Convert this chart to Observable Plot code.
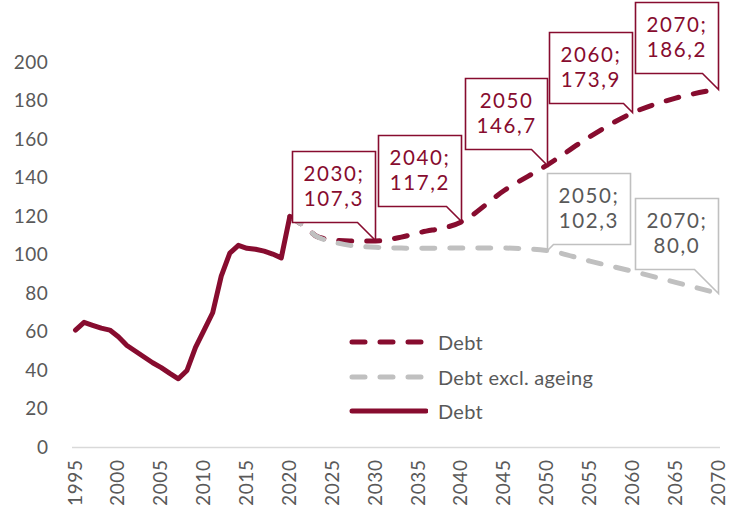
<!DOCTYPE html>
<html><head><meta charset="utf-8">
<script src="https://cdn.jsdelivr.net/npm/d3@7"></script>
<script src="https://cdn.jsdelivr.net/npm/@observablehq/plot@0.6"></script>
<style>
body{margin:0;background:#fff;}
#wrap{position:relative;width:730px;height:506px;font-family:Lato,"Open Sans",sans-serif;}
#wrap svg text{letter-spacing:0.6px;}
#wrap svg g[aria-label^="tip"] text{letter-spacing:1.6px;}
#legend{position:absolute;left:348px;top:325px;}
.row{display:flex;align-items:center;height:34.5px;font-size:20px;color:#595959;letter-spacing:0.3px;}
.row svg{margin-right:10px;display:block}
</style></head><body><div id="wrap"><div id="legend"></div></div>
<script>
// ---- data ----
const histYears = [1995,1996,1997,1998,1999,2000,2001,2002,2003,2004,2005,2006,2007,2008,2009,2010,2011,2012,2013,2014,2015,2016,2017,2018,2019,2020];
const histDebt  = [61,65,63.5,62,61,57.5,53,50,47,44,41.5,38.5,35.7,40,52,61,70,89,101,105,103.5,103,102,100.5,98.5,120];

const projYears    = [2020,2021,2022,2023,2024,2025,2027,2030,2033,2035,2040,2045,2050,2055,2060,2065,2070];
const projDebt     = [120,117,114,110,108.5,107.8,107.3,107.3,109.3,111.5,117.2,133.5,146.7,161.5,173.9,181.5,186.2];
const projExAgeing = [120,117,114,110,108,106.8,105,104,103.6,103.5,103.7,103.6,102.3,96.8,91.5,85.8,80.0];

const calloutYears  = [2030,2040,2050,2060,2070,2050,2070];
const calloutValues = [107.3,117.2,146.7,173.9,186.2,102.3,80.0];
const calloutLabels = ["2030;\n107,3","2040;\n117,2","2050\n146,7","2060;\n173,9","2070;\n186,2","2050;\n102,3","2070;\n80,0"];
const calloutSeries = ["debt","debt","debt","debt","debt","ex","ex"];

const xTicks = [1995,2000,2005,2010,2015,2020,2025,2030,2035,2040,2045,2050,2055,2060,2065,2070];
const yTicks = [0,20,40,60,80,100,120,140,160,180,200];

const legendLabels = ["Debt","Debt excl. ageing","Debt"];

// ---- styles ----
const RED = "#870C2F";
const GRAY = "#C0C0C0";
const TXT = "#595959";
const calloutLayout = [
  {anchor:"bottom-right", pointerSize:18},
  {anchor:"bottom-right", pointerSize:15},
  {anchor:"bottom-right", pointerSize:16},
  {anchor:"bottom-right", pointerSize:9},
  {anchor:"bottom-right", pointerSize:16},
  {anchor:"bottom-left", pointerSize:6},
  {anchor:"bottom-right", pointerSize:24}
];

const hist = histYears.map((y,i)=>({year:y, value:histDebt[i]}));
const proj = projYears.map((y,i)=>({year:y, debt:projDebt[i], ex:projExAgeing[i]}));

const tips = calloutYears.map((y,i)=>{
  const isDebt = calloutSeries[i]==="debt";
  return Plot.tip([{year:y, value:calloutValues[i], label:calloutLabels[i]}], {
    x:"year", y:"value", title:"label",
    anchor: calloutLayout[i].anchor, pointerSize: calloutLayout[i].pointerSize,
    fill:"white", stroke: isDebt ? RED : GRAY, strokeWidth:1.6,
    fontSize:20.5, fontFamily:"Lato, sans-serif", lineHeight:1.2, textPadding:11,
    textAnchor:"middle", pathFilter:"none"
  });
});

const plot = Plot.plot({
  width:730, height:506,
  marginTop:62, marginBottom:59, marginLeft:75, marginRight:12,
  style:{fontFamily:"Lato, sans-serif", background:"white", overflow:"visible"},
  x:{domain:[1995,2070]},
  y:{domain:[0,200]},
  marks:[
    Plot.axisY({ticks:yTicks, tickSize:0, tickPadding:27, fontSize:19, color:TXT, label:null}),
    Plot.axisX({ticks:xTicks, tickFormat:d=>String(d), tickRotate:-90, tickSize:0, tickPadding:12, fontSize:19, color:TXT, label:null}),
    Plot.ruleY([0], {stroke:"#D9D9D9", strokeWidth:1.5, insetLeft:-3, insetRight:-2}),
    Plot.line(proj, {x:"year", y:"debt", stroke:RED, strokeWidth:5, strokeDasharray:"13,15", strokeLinecap:"round", curve:"monotone-x"}),
    Plot.line(proj, {x:"year", y:"ex", stroke:GRAY, strokeWidth:5, strokeDasharray:"13,15", strokeLinecap:"round", curve:"monotone-x"}),
    Plot.line(hist, {x:"year", y:"value", stroke:RED, strokeWidth:5, strokeLinejoin:"round", strokeLinecap:"round"}),
    ...tips
  ]
});
document.getElementById("wrap").prepend(plot);

function colorTips(){
  const gs = [...plot.querySelectorAll('g[aria-label^="tip"]')];
  gs.forEach((g,i)=>{
    const c = calloutSeries[i]==="debt" ? RED : TXT;
    g.style.color = c;
    g.querySelectorAll("text, tspan").forEach(t=>{t.style.fill=c; t.setAttribute("fill", c);});
  });
}
colorTips();
requestAnimationFrame(colorTips);
setTimeout(colorTips, 50);

// legend
const legendStyles = [
  {stroke:RED, dash:"13,15"},
  {stroke:GRAY, dash:"13,15"},
  {stroke:RED, dash:null}
];
const legend = document.getElementById("legend");
legendLabels.forEach((lab,i)=>{
  const row = document.createElement("div");
  row.className="row";
  const s = legendStyles[i];
  row.innerHTML = `<svg width="80" height="10"><line x1="4" y1="5" x2="${s.dash?76:78}" y2="5" stroke="${s.stroke}" stroke-width="5" stroke-linecap="round" ${s.dash?`stroke-dasharray="${s.dash}"`:""}/></svg><span>${lab}</span>`;
  legend.appendChild(row);
});
</script>
</body></html>
